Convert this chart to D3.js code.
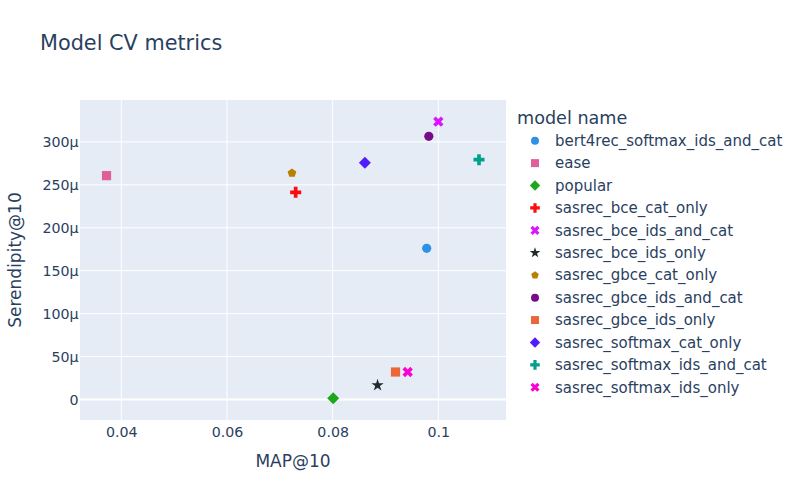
<!DOCTYPE html>
<html>
<head>
<meta charset="utf-8">
<script src="https://cdn.jsdelivr.net/npm/d3@7"></script>
<style>
  body { margin: 0; background: #fff; }
  text { font-family: "DejaVu Sans", Verdana, sans-serif; fill: #2a3f5f; }
</style>
</head>
<body>
<svg id="drawing_region"></svg>
<script>
// data
const models = [
  'bert4rec_softmax_ids_and_cat', 'ease', 'popular', 'sasrec_bce_cat_only',
  'sasrec_bce_ids_and_cat', 'sasrec_bce_ids_only', 'sasrec_gbce_cat_only',
  'sasrec_gbce_ids_and_cat', 'sasrec_gbce_ids_only', 'sasrec_softmax_cat_only',
  'sasrec_softmax_ids_and_cat', 'sasrec_softmax_ids_only'
];
const mapAt10 = [0.0978, 0.0372, 0.0801, 0.0730, 0.1000, 0.0885, 0.0723, 0.0982, 0.0919, 0.0861, 0.1077, 0.0942];
const serendipityAt10 = [176e-6, 260.7e-6, 1.5e-6, 241.3e-6, 323.6e-6, 16.5e-6, 263.8e-6, 306.5e-6, 32e-6, 275.8e-6, 279.3e-6, 32e-6];
const xTicks = [0.04, 0.06, 0.08, 0.1];
const yTicks = [0, 50e-6, 100e-6, 150e-6, 200e-6, 250e-6, 300e-6];

const palette = ['#2E91E5', '#E15F99', '#1CA71C', '#FB0D0D', '#DA16FF', '#222A2A',
  '#B68100', '#750D86', '#EB663B', '#511CFB', '#00A08B', '#FB00D1'];
const symbolNames = ['circle', 'square', 'diamond', 'cross', 'x', 'star', 'pentagon',
  'circle', 'square', 'diamond', 'cross', 'x'];

// plotly-like marker paths
function symbolPath(name, r) {
  const R = v => Math.round(v * 100) / 100;
  if (name === 'circle') {
    return `M${r},0A${r},${r} 0 1,1 0,-${r}A${r},${r} 0 0,1 ${r},0Z`;
  }
  if (name === 'square') {
    const s = R(r);
    return `M${s},${s}H-${s}V-${s}H${s}Z`;
  }
  if (name === 'diamond') {
    const d = R(r * 1.3);
    return `M${d},0L0,${d}L-${d},0L0,-${d}Z`;
  }
  if (name === 'cross') {
    const a = R(r * 0.4), b = R(r * 1.2);
    return `M${b},${a}H${a}V${b}H-${a}V${a}H-${b}V-${a}H-${a}V-${b}H${a}V-${a}H${b}Z`;
  }
  if (name === 'x') {
    const q = R(r * 0.8 / Math.SQRT2);
    const ne = `l${q},${q}`, se = `l${q},-${q}`, sw = `l-${q},-${q}`, nw = `l-${q},${q}`;
    return 'M0,' + q + ne + se + sw + se + sw + nw + sw + nw + ne + nw + ne + 'Z';
  }
  if (name === 'pentagon') {
    const x1 = R(r * 0.951), x2 = R(r * 0.588), y0 = R(-r), y1 = R(r * -0.309), y2 = R(r * 0.809);
    return `M${x1},${y1}L${x2},${y2}H-${x2}L-${x1},${y1}L0,${y0}Z`;
  }
  if (name === 'star') {
    const s = r * 1.4;
    const x1 = R(s * 0.225), x2 = R(s * 0.951), x3 = R(s * 0.363), x4 = R(s * 0.588);
    const y0 = R(-s), y1 = R(s * -0.309), y3 = R(s * 0.118), y4 = R(s * 0.809), y5 = R(s * 0.382);
    return `M${x1},${y1}H${x2}L${x3},${y3}L${x4},${y4}L0,${y5}L-${x4},${y4}L-${x3},${y3}L-${x2},${y1}H-${x1}L0,${y0}Z`;
  }
}

const width = 800, height = 500;
const margin = { top: 100, right: 294, bottom: 80, left: 80 };
const innerW = width - margin.left - margin.right;
const innerH = height - margin.top - margin.bottom;
const markerR = 4.6;

const svg = d3.select('#drawing_region').attr('width', width).attr('height', height);

svg.append('text').attr('x', 40).attr('y', 50).attr('font-size', '20.8px').text('Model CV metrics');

const g = svg.append('g').attr('transform', `translate(${margin.left},${margin.top})`);

const x = d3.scaleLinear().domain([0.03218, 0.11281]).range([0, innerW]);
const y = d3.scaleLinear().domain([-23.9e-6, 348.8e-6]).range([innerH, 0]);

g.append('rect').attr('width', innerW).attr('height', innerH).attr('fill', '#E5ECF6');

// grid
g.selectAll('.xgrid').data(xTicks).enter().append('line')
  .attr('x1', d => x(d)).attr('x2', d => x(d)).attr('y1', 0).attr('y2', innerH)
  .attr('stroke', '#fff').attr('stroke-width', 1);
g.selectAll('.ygrid').data(yTicks).enter().append('line')
  .attr('x1', 0).attr('x2', innerW).attr('y1', d => y(d)).attr('y2', d => y(d))
  .attr('stroke', '#fff').attr('stroke-width', d => d === 0 ? 2 : 1);

// axes (labels only, like plotly)
const xAxis = g.append('g').attr('transform', `translate(0,${innerH})`)
  .call(d3.axisBottom(x).tickValues(xTicks).tickFormat(d3.format('~g')).tickSize(0).tickPadding(7));
const yAxis = g.append('g')
  .call(d3.axisLeft(y).tickValues(yTicks).tickFormat(d3.format('~s')).tickSize(0).tickPadding(1.5));
[xAxis, yAxis].forEach(a => {
  a.select('.domain').remove();
  a.selectAll('text').attr('font-size', '14.2px').attr('fill', '#2a3f5f')
    .attr('font-family', '"DejaVu Sans", Verdana, sans-serif');
});

svg.append('text').attr('x', margin.left + innerW / 2).attr('y', 467)
  .attr('text-anchor', 'middle').attr('font-size', '17px').text('MAP@10');
svg.append('text').attr('transform', `translate(21,${margin.top + innerH / 2}) rotate(-90)`)
  .attr('text-anchor', 'middle').attr('font-size', '17px').text('Serendipity@10');

// points
g.selectAll('.pt').data(models).enter().append('path')
  .attr('transform', (d, i) => `translate(${x(mapAt10[i])},${y(serendipityAt10[i])})`)
  .attr('d', (d, i) => symbolPath(symbolNames[i], markerR))
  .attr('fill', (d, i) => palette[i]);

// legend
const legend = svg.append('g').attr('transform', 'translate(517,0)');
legend.append('text').attr('x', 0).attr('y', 123.5).attr('font-size', '17.6px').text('model name');
const item = legend.selectAll('.item').data(models).enter().append('g')
  .attr('transform', (d, i) => `translate(0,${140.7 + i * 22.42})`);
item.append('path').attr('transform', 'translate(18,0)')
  .attr('d', (d, i) => symbolPath(symbolNames[i], 4))
  .attr('fill', (d, i) => palette[i]);
item.append('text').attr('x', 38).attr('dy', '0.35em').attr('font-size', '15px').text(d => d);
</script>
</body>
</html>
